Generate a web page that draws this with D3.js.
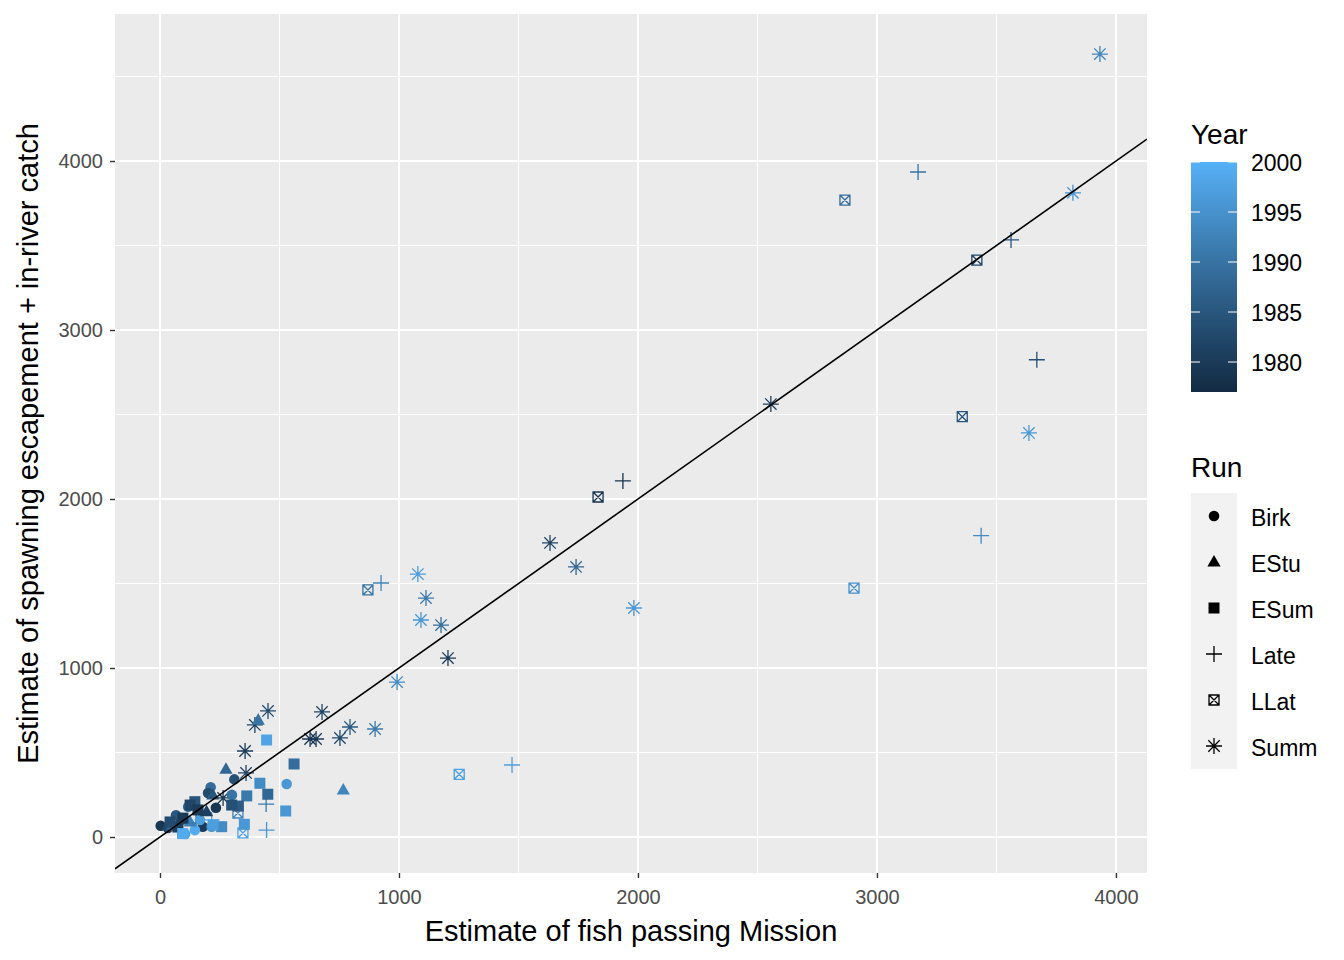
<!DOCTYPE html>
<html>
<head>
<meta charset="utf-8">
<script src="https://cdn.jsdelivr.net/npm/d3@7"></script>
<style>
  body { margin: 0; background: #fff; }
  svg { font-family: "Liberation Sans", Arial, sans-serif; display: block; }
</style>
</head>
<body>
<div id="chart"></div>
<script>
// data: one entry per point
const runs = [
  'Summ','Summ','Summ','Summ','Summ','Summ','Summ','Summ','Summ','Summ','Summ','Summ',
  'Summ','Summ','Summ','Summ','Summ','Summ','Summ','Summ','Summ','Summ','Summ','Summ',
  'Late','Late','Late','Late','Late','Late','Late','Late','Late','Late','Late','Late',
  'LLat','LLat','LLat','LLat','LLat','LLat','LLat','LLat','LLat',
  'Birk','Birk','Birk','Birk','Birk','Birk','Birk','Birk','Birk','Birk','Birk','Birk','Birk','Birk','Birk',
  'EStu','EStu','EStu','EStu','EStu','EStu','EStu','EStu',
  'ESum','ESum','ESum','ESum','ESum','ESum','ESum','ESum','ESum','ESum','ESum','ESum','ESum','ESum','ESum','ESum','ESum','ESum'
];
const mission = [
  3933, 3820, 2556, 1632, 1741, 1983, 1079, 1113, 1092, 1176, 1205, 992,
  3636, 678, 795, 900, 753, 653, 628, 452, 397, 356, 360, 264,
  3172, 3561, 3669, 1937, 3436, 925, 1473, 444, 446, 216, 75, 151,
  2866, 3418, 3357, 1833, 870, 2904, 1252, 326, 347,
  3, 179, 234, 311, 212, 301, 118, 530, 167, 105, 216, 67, 33, 146, 201,
  767, 411, 276, 221, 195, 84, 50, 126,
  446, 561, 418, 526, 451, 363, 328, 300, 353, 258, 222, 146, 126, 96, 75, 42, 159, 95
];
const spawn = [
  4633, 3812, 2562, 1740, 1598, 1355, 1556, 1414, 1284, 1254, 1059, 917,
  2391, 740, 651, 639, 586, 580, 580, 746, 663, 509, 379, 231,
  3935, 3533, 2824, 2107, 1783, 1503, 426, 195, 41, 101, 41, 83,
  3769, 3414, 2487, 2012, 1462, 1473, 371, 142, 24,
  67, 61, 173, 341, 294, 249, 179, 314, 101, 18, 61, 129, 53, 41, 260,
  278, 692, 401, 249, 150, 101, 65, 89,
  574, 432, 318, 154, 253, 243, 183, 189, 75, 61, 71, 209, 189, 112, 59, 89, 160, 20
];
const years = [
  1993, 1995, 1981, 1982, 1988, 1996, 1997, 1991, 1996, 1989, 1980, 1994,
  1996, 1982, 1986, 1991, 1983, 1980, 1979, 1983, 1981, 1980, 1982, 1980,
  1990, 1985, 1984, 1979, 1994, 1993, 1997, 1991, 1996, 1998, 1980, 1985,
  1989, 1982, 1985, 1979, 1990, 1995, 1997, 1993, 1998,
  1979, 1980, 1979, 1984, 1989, 1990, 1988, 1996, 1997, 1998, 1995, 1985, 1982, 1999, 1983,
  1993, 1990, 1988, 1985, 1981, 1983, 1987, 1992,
  1998, 1989, 1994, 1996, 1988, 1991, 1986, 1984, 1996, 1994, 1997, 1985, 1982, 1980, 1981, 1983, 1980, 1999
];

const runLevels = ['Birk', 'EStu', 'ESum', 'Late', 'LLat', 'Summ'];
const xTicks = [0, 1000, 2000, 3000, 4000];
const xMinor = [500, 1500, 2500, 3500];
const yTicks = [0, 1000, 2000, 3000, 4000];
const yMinor = [500, 1500, 2500, 3500, 4500];
const yearTicks = [1980, 1985, 1990, 1995, 2000];
const yearRange = [1977, 2000];

const data = runs.map((r, i) => ({ run: r, mission: mission[i], spawn: spawn[i], year: years[i] }));

const W = 1344;
const H = 960;
const panel = { left: 115, right: 1147, top: 14, bottom: 873 };

const x = d3.scaleLinear().domain([-188.3, 4130]).range([panel.left, panel.right]);
const y = d3.scaleLinear().domain([-213, 4870]).range([panel.bottom, panel.top]);
const colour = d3.scaleLinear().domain(yearRange).range(['#132B43', '#56B1F7']).interpolate(d3.interpolateLab);

// ggplot-like point shapes, as path strings around 0,0
const shapePath = (run) => {
  switch (run) {
    case 'Birk': { const r = 5.3; return `M${r},0A${r},${r} 0 1,1 ${-r},0A${r},${r} 0 1,1 ${r},0Z`; }
    case 'EStu': return 'M0,-7L6.6,4.6L-6.6,4.6Z';
    case 'ESum': return 'M-5.5,-5.5H5.5V5.5H-5.5Z';
    case 'Late': return 'M-8,0H8M0,-8V8';
    case 'LLat': return 'M-5,-5H5V5H-5ZM-5,-5L5,5M5,-5L-5,5';
    default: return 'M-8,0H8M0,-8V8M-5.7,-5.7L5.7,5.7M5.7,-5.7L-5.7,5.7';
  }
};
const filled = (run) => run === 'Birk' || run === 'EStu' || run === 'ESum';

const svg = d3.select('#chart').append('svg').attr('width', W).attr('height', H);

svg.append('defs').append('clipPath').attr('id', 'clip')
  .append('rect')
  .attr('x', panel.left).attr('y', panel.top)
  .attr('width', panel.right - panel.left).attr('height', panel.bottom - panel.top);

// panel background and grid
svg.append('rect')
  .attr('x', panel.left).attr('y', panel.top)
  .attr('width', panel.right - panel.left).attr('height', panel.bottom - panel.top)
  .attr('fill', '#EBEBEB');

const grid = svg.append('g').attr('stroke', '#fff');
grid.selectAll('.xmin').data(xMinor).join('line')
  .attr('x1', x).attr('x2', x).attr('y1', panel.top).attr('y2', panel.bottom).attr('stroke-width', 1);
grid.selectAll('.ymin').data(yMinor).join('line')
  .attr('y1', y).attr('y2', y).attr('x1', panel.left).attr('x2', panel.right).attr('stroke-width', 1);
grid.selectAll('.xmaj').data(xTicks).join('line')
  .attr('x1', x).attr('x2', x).attr('y1', panel.top).attr('y2', panel.bottom).attr('stroke-width', 2);
grid.selectAll('.ymaj').data(yTicks).join('line')
  .attr('y1', y).attr('y2', y).attr('x1', panel.left).attr('x2', panel.right).attr('stroke-width', 2);

// points
svg.append('g').attr('clip-path', 'url(#clip)')
  .selectAll('path').data(data).join('path')
  .attr('transform', (d) => `translate(${x(d.mission)},${y(d.spawn)})`)
  .attr('d', (d) => shapePath(d.run))
  .attr('fill', (d) => (filled(d.run) ? colour(d.year) : 'none'))
  .attr('stroke', (d) => (filled(d.run) ? 'none' : colour(d.year)))
  .attr('stroke-width', 1.3);

// y = x reference line
const lineDomain = x.domain();
svg.append('line').attr('clip-path', 'url(#clip)')
  .attr('x1', x(lineDomain[0])).attr('y1', y(lineDomain[0]))
  .attr('x2', x(lineDomain[1])).attr('y2', y(lineDomain[1]))
  .attr('stroke', '#000').attr('stroke-width', 1.6);

// axes
const xAxis = d3.axisBottom(x).tickValues(xTicks).tickFormat(d3.format('d')).tickSize(5).tickPadding(12);
const yAxis = d3.axisLeft(y).tickValues(yTicks).tickFormat(d3.format('d')).tickSize(5).tickPadding(7);

const gx = svg.append('g').attr('transform', `translate(0,${panel.bottom})`).call(xAxis);
const gy = svg.append('g').attr('transform', `translate(${panel.left},0)`).call(yAxis);
[gx, gy].forEach((g) => {
  g.select('.domain').remove();
  g.selectAll('line').attr('stroke', '#333333').attr('stroke-width', 1.4);
  g.selectAll('text').attr('fill', '#4D4D4D').style('font-size', '20px')
    .style('font-family', '"Liberation Sans", Arial, sans-serif');
});

svg.append('text')
  .attr('x', (panel.left + panel.right) / 2).attr('y', 941)
  .attr('text-anchor', 'middle').style('font-size', '29px')
  .text('Estimate of fish passing Mission');

svg.append('text')
  .attr('transform', `translate(38,${(panel.top + panel.bottom) / 2}) rotate(-90)`)
  .attr('text-anchor', 'middle').style('font-size', '29px')
  .text('Estimate of spawning escapement + in-river catch');

// colour legend
const barX = 1191;
const barW = 46;
const yBar = d3.scaleLinear().domain(yearRange).range([392, 162]);

const grad = svg.select('defs').append('linearGradient')
  .attr('id', 'yeargrad').attr('x1', 0).attr('y1', 1).attr('x2', 0).attr('y2', 0);
d3.range(0, 1.0001, 0.1).forEach((t) => {
  grad.append('stop').attr('offset', t)
    .attr('stop-color', colour(yearRange[0] + t * (yearRange[1] - yearRange[0])));
});

svg.append('text').attr('x', barX).attr('y', 144).style('font-size', '28px').text('Year');
svg.append('rect')
  .attr('x', barX).attr('y', yBar(yearRange[1]))
  .attr('width', barW).attr('height', yBar(yearRange[0]) - yBar(yearRange[1]))
  .attr('fill', 'url(#yeargrad)');

const yearKeys = svg.append('g').selectAll('g').data(yearTicks).join('g')
  .attr('transform', (d) => `translate(0,${yBar(d)})`);
yearKeys.append('line').attr('x1', barX).attr('x2', barX + 9).attr('stroke', '#fff').attr('stroke-width', 1);
yearKeys.append('line').attr('x1', barX + barW - 9).attr('x2', barX + barW).attr('stroke', '#fff').attr('stroke-width', 1);
yearKeys.append('text')
  .attr('x', 1251).attr('dy', '0.38em').style('font-size', '23px')
  .text((d) => d);

// shape legend
const keyTop = 493;
const keyH = 46;
svg.append('text').attr('x', barX).attr('y', 477).style('font-size', '28px').text('Run');
svg.append('rect')
  .attr('x', barX).attr('y', keyTop).attr('width', barW).attr('height', keyH * runLevels.length)
  .attr('fill', '#F2F2F2');

const runKeys = svg.append('g').selectAll('g').data(runLevels).join('g')
  .attr('transform', (d, i) => `translate(0,${keyTop + keyH * i + keyH / 2})`);
runKeys.append('path')
  .attr('transform', `translate(${barX + barW / 2},0)`)
  .attr('d', shapePath)
  .attr('fill', (d) => (filled(d) ? '#000' : 'none'))
  .attr('stroke', (d) => (filled(d) ? 'none' : '#000'))
  .attr('stroke-width', 1.3);
runKeys.append('text')
  .attr('x', 1251).attr('dy', '0.42em').style('font-size', '23px')
  .text((d) => d);
</script>
</body>
</html>
